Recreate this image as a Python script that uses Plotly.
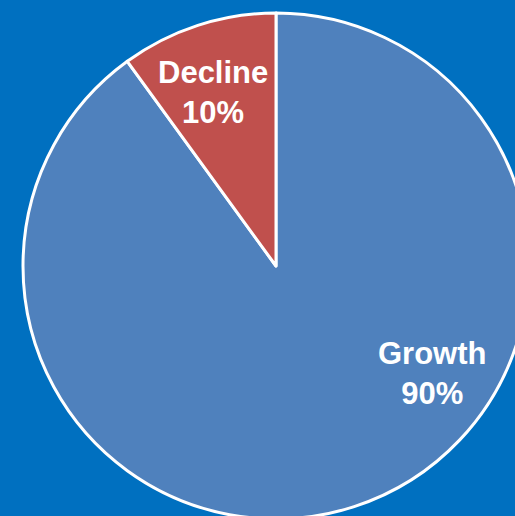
import plotly.graph_objects as go

labels = ["Growth", "Decline"]
values = [90, 10]
colors = ["#4F81BD", "#C0504D"]
# label anchor positions (pixel coords in the page) for the text boxes
label_px = [432, 213]
label_py = [373, 92]

W, H = 529, 519
ML, MT = 23, 13
D = 506

fig = go.Figure(go.Pie(
    labels=labels, values=values, sort=False, direction="clockwise",
    rotation=0, marker=dict(colors=colors, line=dict(color="white", width=3)),
    textinfo="none", hoverinfo="label+percent", showlegend=False,
))

total = sum(values)
annotations = []
for lab, v, px, py in zip(labels, values, label_px, label_py):
    annotations.append(dict(
        text=f"{lab}<br>{round(100*v/total)}%",
        x=(px - ML) / D, y=1 - (py - MT) / D, xref="paper", yref="paper",
        showarrow=False, xanchor="center", yanchor="middle",
        font=dict(family="Arial, Liberation Sans, sans-serif", size=31, color="white", weight="bold"),
    ))

fig.update_layout(
    width=W, height=H, margin=dict(l=ML, t=MT, r=W - ML - D, b=H - MT - D),
    paper_bgcolor="#0070C0", plot_bgcolor="#0070C0",
    annotations=annotations,
)

fig.write_html("out.html", post_script="document.body.style.margin='0';document.body.style.overflow='hidden';")
